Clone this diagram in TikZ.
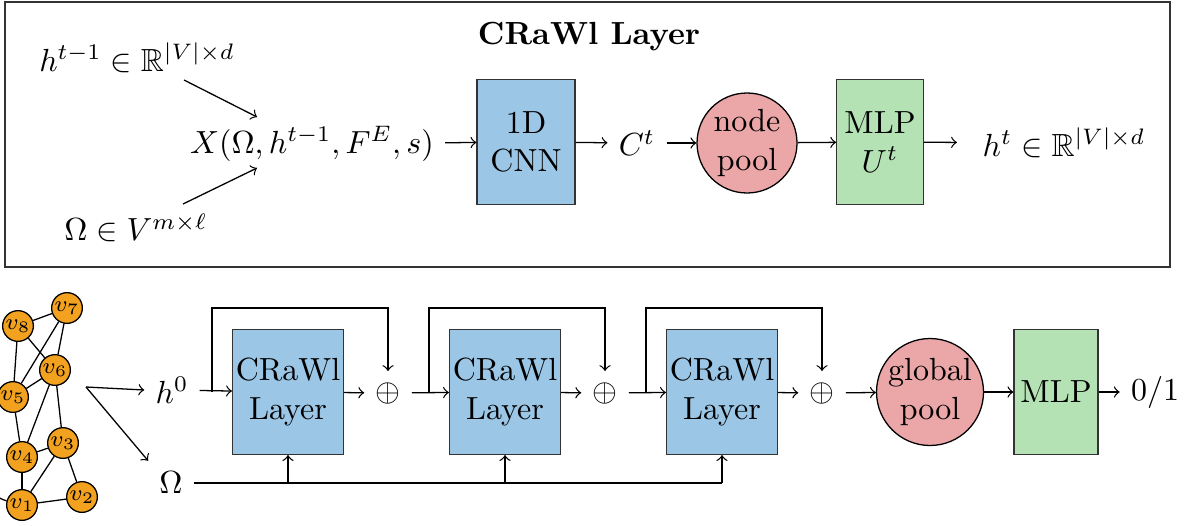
\documentclass[tikz,border=0pt]{standalone}
\usepackage{amsmath}
\usepackage{amssymb}
\usetikzlibrary{arrows,positioning,shapes,fit,calc}
\definecolor{layerblue}{HTML}{9BC6E6}
\definecolor{poolred}{HTML}{EBA6A8}
\definecolor{mlpgreen}{HTML}{B4E2B4}
\definecolor{vertorange}{HTML}{F3A21F}

\begin{document}
\begin{tikzpicture}[x=0.3125pt,y=-0.3125pt,
  layer/.style={draw=black!80,fill=layerblue,minimum width=34.4pt,minimum height=39pt,inner sep=1pt,align=center},
  mlp/.style={draw=black!80,fill=mlpgreen,minimum width=26.5pt,minimum height=39pt,inner sep=1pt,align=center},
  pool/.style={circle,draw=black,fill=poolred,inner sep=0pt,align=center},
  vert/.style={circle,draw=black,fill=vertorange,inner sep=0pt,minimum size=9.6pt,font=\scriptsize}]
  \useasboundingbox (0,0) rectangle (1189,525);

  \draw[draw=black!80,line width=0.6pt] (5,2) rectangle (1170,267);
  \node (title) at (589,37) {\textbf{CRaWl Layer}};
  \node (hin) at (137,58) {$h^{t-1}\in\mathbb{R}^{|V|\times d}$};
  \node (omin) at (136,228) {$\Omega\in V^{m\times\ell}$};
  \node (X) at (312,144) {$X(\Omega,h^{t-1},F^E,s)$};
  \node[layer,minimum width=30.6pt] (cnn) at (526,142) {1D\\CNN};
  \node (ct) at (637,143) {$C^t$};
  \node[pool,minimum size=31.25pt] (npool) at (747,143) {node\\pool};
  \node[mlp,minimum width=27pt] (mlpu) at (880,142) {MLP\\$U^t$};
  \node (hout) at (1064,143) {$h^t\in\mathbb{R}^{|V|\times d}$};
  \coordinate (hx1) at (184,80);
  \coordinate (hx2) at (257,117);
  \coordinate (ox1) at (183,204);
  \coordinate (ox2) at (257,168);
  \draw[->] (hx1) -- (hx2);
  \draw[->] (ox1) -- (ox2);
  \path[->]
    (X) edge (cnn)
    (cnn) edge (ct)
    (ct) edge (npool)
    (npool) edge (mlpu)
    (mlpu) edge[shorten >=4.5pt] (hout);

  \foreach \n/\x/\y in {1/22/505,2/82/497,3/63/443,4/22/457,5/13/397,6/55/370,7/67/308,8/18/326}
    \node[vert] (v\n) at (\x,\y) {$v_\n$};
  \foreach \a/\b in {8/7,8/5,8/6,7/5,7/6,6/5,6/4,6/3,5/4,4/3,4/1,3/1,3/2,1/2}
    \draw (v\a) -- (v\b);
  \draw (v5) to[bend right=70] (v1);

  \node (h0) at (172,390) {$h^0$};
  \node (om) at (171,483) {$\Omega$};
  \coordinate (gout) at (86,387);
  \draw[->] (gout) -- (h0.west);
  \draw[->] (gout) -- (om.north west);

  \node[layer] (b1) at (288,392) {CRaWl\\Layer};
  \node (p1) at (388,393) {$\oplus$};
  \node[layer] (b2) at (505,392) {CRaWl\\Layer};
  \node (p2) at (605,393) {$\oplus$};
  \node[layer] (b3) at (722,392) {CRaWl\\Layer};
  \node (p3) at (822,393) {$\oplus$};
  \node[pool,minimum size=33.4pt] (gpool) at (930,392) {global\\pool};
  \node[mlp,minimum width=26.25pt] (mlp) at (1056,392) {MLP};
  \node (out) at (1155,392) {$0/1$};

  \path[->]
    (h0) edge (b1)
    (b1) edge (p1)
    (p1) edge (b2)
    (b2) edge (p2)
    (p2) edge (b3)
    (b3) edge (p3)
    (p3) edge (gpool)
    (gpool) edge (mlp)
    (mlp) edge (out);

  \draw[->] ($(b1.west)+(-20,0)$) -- ++(0,-84) -| (p1.north);
  \draw[->] ($(b2.west)+(-20,0)$) -- ++(0,-84) -| (p2.north);
  \draw[->] ($(b3.west)+(-20,0)$) -- ++(0,-84) -| (p3.north);

  \draw (om) -- (om -| b3);
  \draw[->] (om -| b1) -- (b1.south);
  \draw[->] (om -| b2) -- (b2.south);
  \draw[->] (om -| b3) -- (b3.south);
\end{tikzpicture}
\end{document}
